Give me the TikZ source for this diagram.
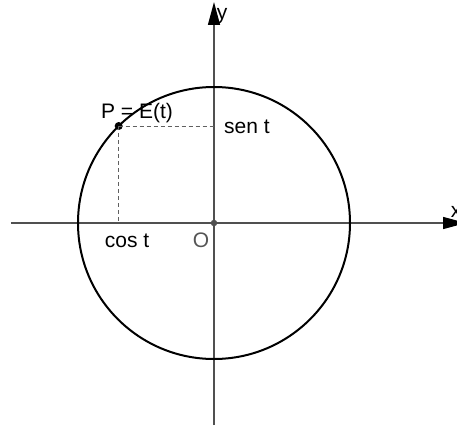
\documentclass[tikz,border=0pt]{standalone}
\usepackage{fontspec}
\setmainfont{Liberation Sans}
\usetikzlibrary{arrows.meta,calc}
\definecolor{axisgray}{HTML}{505050}
\definecolor{dashgray}{HTML}{606060}
\definecolor{origray}{HTML}{555555}
\tikzset{
  axis/.style={draw=axisgray, line width=1.4pt,
    -{Triangle[length=23pt,width=12pt,color=black]}},
  circ/.style={draw=black, line width=2pt},
  guide/.style={draw=dashgray, line width=0.9pt, dash pattern=on 4pt off 3pt},
  pdot/.style={circle, fill=black, inner sep=0pt, minimum size=8pt},
  odot/.style={circle, fill=axisgray, inner sep=0pt, minimum size=6.5pt},
  lbl/.style={anchor=base, inner sep=0pt, font=\fontsize{21}{25}\selectfont}
}
\begin{document}
\begin{tikzpicture}[x=1pt,y=1pt]
  \useasboundingbox (-214,-203) rectangle (243,223);
  \coordinate (xl) at (-203,0);
  \coordinate (xr) at (252,0);
  \coordinate (yb) at (0,-202);
  \coordinate (yt) at (0,221);
  \draw[axis] (xl) -- (xr);
  \draw[axis] (yb) -- (yt);
  \node[odot] (O) at (0,0) {};
  \draw[circ] (O.center) circle[radius=136pt];
  \node[pdot] (P) at (134.5:136pt) {};
  \draw[guide] (P.center) -- (P.center -| O.center);
  \draw[guide] (P.center) -- (P.center |- O.center);
  \node[lbl] (lp) at (-77,105) {P = E(t)};
  \node[lbl] (ls) at (33,90) {sen t};
  \node[lbl] (lc) at (-87,-24) {cos t};
  \node[lbl, text=origray] (lo) at (-13,-24) {O};
  \node[lbl] (ly) at (8,203) {y};
  \node[lbl] (lx) at (242,6) {x};
\end{tikzpicture}
\end{document}
